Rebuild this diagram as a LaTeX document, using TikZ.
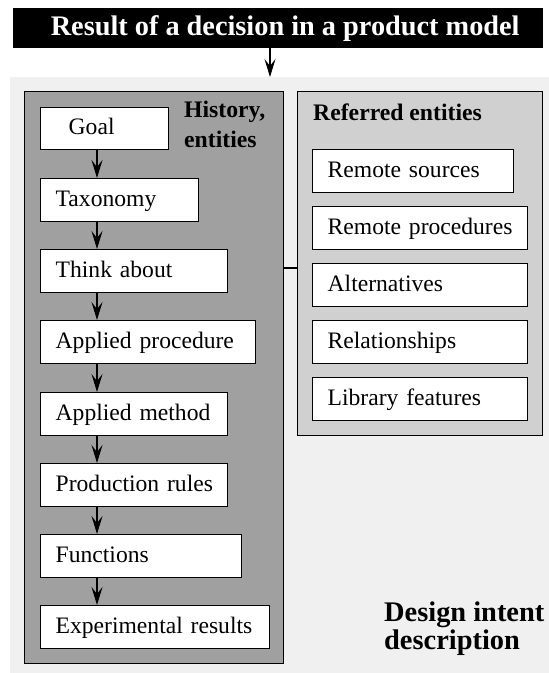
\documentclass[tikz,border=0pt]{standalone}
\usepackage{fontspec}
\setmainfont{Liberation Serif}
\usetikzlibrary{arrows.meta}
\definecolor{bgray}{HTML}{F0F0F0}
\definecolor{dgray}{HTML}{A0A0A0}
\definecolor{mgray}{HTML}{D0D0D0}
\tikzset{
  bx/.style={draw, fill=white, line width=1.4pt, anchor=north west, minimum height=43pt,
    inner xsep=15pt, inner ysep=0pt, align=left, text height=16.5pt, text depth=4.5pt,
    font=\fontsize{23.6}{28}\selectfont},
  panel/.style={draw, line width=1.4pt, anchor=north west, inner sep=0pt},
  arr/.style={line width=1.4pt, -{Stealth[length=18pt,width=11pt,inset=7pt]}},
  lbl/.style={font=\fontsize{23.7}{30}\selectfont\bfseries, align=left, inner sep=0pt, anchor=base west},
}
\begin{document}
\begin{tikzpicture}[x=1pt,y=-1pt]
\useasboundingbox (0,0) rectangle (549,673);
\node[fill=bgray, anchor=north west, minimum width=539pt, minimum height=596pt, inner sep=0pt] (bg) at (10,77) {};
\node[fill=black, anchor=north west, minimum width=530pt, minimum height=40pt, inner sep=0pt,
  text=white, font=\fontsize{28.3}{34}\selectfont\bfseries] (title) at (13,8) {\hspace*{14pt}Result of a decision in a product model};
\coordinate (ax) at (270,0);
\draw[arr] (title.south -| ax) -- (bg.north -| ax);
% panels
\node[panel, fill=dgray, minimum width=259pt, minimum height=572pt] (hist) at (24,91) {};
\node[panel, fill=mgray, minimum width=245pt, minimum height=344pt] (ref) at (297,91) {};
\coordinate (cy) at (0,268);
\draw[line width=1.4pt] (hist.east |- cy) -- (ref.west |- cy);
\node[lbl] (histlbl) at (184,147) {History,\\entities};
\node[lbl] (reflbl) at (313,120) {Referred entities};
% left boxes
\node[bx, minimum height=42pt, text width=72pt, inner xsep=28pt] (goal) at (40,107) {\mbox{Goal}};
\node[bx, text width=128pt] (tax) at (40,178) {\mbox{Taxonomy}};
\node[bx, text width=157pt] (think) at (40,249) {\mbox{Think about}};
\node[bx, text width=185pt] (aproc) at (40,320) {\mbox{Applied procedure}};
\node[bx, text width=157pt] (ameth) at (40,392) {\mbox{Applied method}};
\node[bx, text width=157pt] (prod) at (40,463) {\mbox{Production rules}};
\node[bx, text width=171pt] (func) at (40,534) {\mbox{Functions}};
\node[bx, text width=199pt] (exp) at (40,605) {\mbox{Experimental results}};
\coordinate (lx) at (97,0);
\draw[arr] (goal.south -| lx) -- (tax.north -| lx);
\draw[arr] (tax.south -| lx) -- (think.north -| lx);
\draw[arr] (think.south -| lx) -- (aproc.north -| lx);
\draw[arr] (aproc.south -| lx) -- (ameth.north -| lx);
\draw[arr] (ameth.south -| lx) -- (prod.north -| lx);
\draw[arr] (prod.south -| lx) -- (func.north -| lx);
\draw[arr] (func.south -| lx) -- (exp.north -| lx);
% right boxes
\node[bx, text width=171pt] (rsrc) at (312,149) {\mbox{Remote sources}};
\node[bx, text width=185pt] (rproc) at (312,206) {\mbox{Remote procedures}};
\node[bx, text width=185pt] (alt) at (312,263) {\mbox{Alternatives}};
\node[bx, text width=185pt] (rel) at (312,320) {\mbox{Relationships}};
\node[bx, text width=185pt] (lib) at (312,377) {\mbox{Library features}};
% caption
\node[font=\fontsize{28.4}{28}\selectfont\bfseries, align=left, inner sep=0pt, anchor=base west] (did) at (384,649) {Design intent\\description};
\end{tikzpicture}
\end{document}
